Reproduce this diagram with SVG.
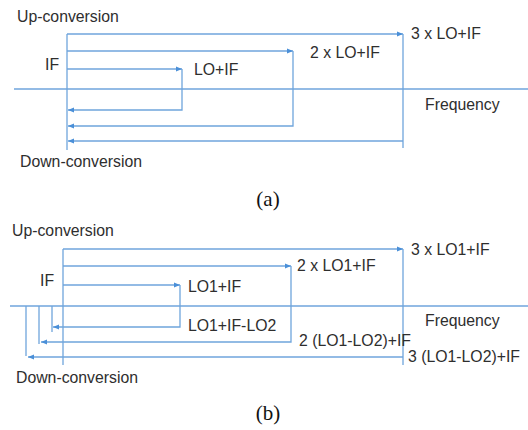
<svg xmlns="http://www.w3.org/2000/svg" width="528" height="430" viewBox="0 0 528 430">
<defs>
<style>
.ln{fill:none;stroke:#6fa5dc;stroke-width:1.3}
.ax{fill:none;stroke:#6fa5dc;stroke-width:1.6}
.t{font-family:"Liberation Sans",Arial,sans-serif;font-size:15.8px;fill:#2e2e2e}
.cap{font-family:"Liberation Serif","Times New Roman",serif;font-size:21px;fill:#111;text-anchor:middle}
</style>
<marker id="ah" markerWidth="6" markerHeight="6" refX="6" refY="3" orient="auto" markerUnits="userSpaceOnUse">
<path d="M0,0.5 L6,3 L0,5.5 z" fill="#4a8fd8"/>
</marker>
</defs>
<rect width="528" height="430" fill="#fff"/>

<g id="panel-a">
<g id="axes-a">
<line class="ax" x1="14" y1="89" x2="528" y2="89"/>
<line class="ln" x1="67" y1="34" x2="67" y2="150"/>
</g>
<g id="connectors-a">
<path class="ln" d="M67,69 H182" marker-end="url(#ah)"/>
<path class="ln" d="M182,69 V110 H68" marker-end="url(#ah)"/>
<path class="ln" d="M67,51 H293" marker-end="url(#ah)"/>
<path class="ln" d="M293,51 V126 H68" marker-end="url(#ah)"/>
<path class="ln" d="M67,34 H403" marker-end="url(#ah)"/>
<path class="ln" d="M403,34 V148"/>
<path class="ln" d="M403,141 H68" marker-end="url(#ah)"/>
</g>
<g id="labels-a">
<text class="t" x="17" y="22">Up-conversion</text>
<text class="t" x="45" y="70">IF</text>
<text class="t" x="194" y="75">LO+IF</text>
<text class="t" x="310" y="58">2 x LO+IF</text>
<text class="t" x="411" y="39">3 x LO+IF</text>
<text class="t" x="425" y="110">Frequency</text>
<text class="t" x="20" y="167">Down-conversion</text>
<text class="cap" x="268" y="206">(a)</text>
</g>
</g>

<g id="panel-b">
<g id="axes-b">
<line class="ax" x1="10" y1="306" x2="528" y2="306"/>
<line class="ln" x1="63" y1="249" x2="63" y2="365"/>
</g>
<g id="connectors-b">
<path class="ln" d="M63,285 H180" marker-end="url(#ah)"/>
<path class="ln" d="M180,285 V327 H53" marker-end="url(#ah)"/>
<path class="ln" d="M52,306 V332"/>
<path class="ln" d="M63,266 H291" marker-end="url(#ah)"/>
<path class="ln" d="M291,266 V342 H41" marker-end="url(#ah)"/>
<path class="ln" d="M39,306 V344"/>
<path class="ln" d="M63,249 H403" marker-end="url(#ah)"/>
<path class="ln" d="M403,249 V365"/>
<path class="ln" d="M403,357 H28" marker-end="url(#ah)"/>
<path class="ln" d="M26,306 V356"/>
</g>
<g id="labels-b">
<text class="t" x="12" y="236">Up-conversion</text>
<text class="t" x="40" y="286">IF</text>
<text class="t" x="188" y="292">LO1+IF</text>
<text class="t" x="188" y="331">LO1+IF-LO2</text>
<text class="t" x="297" y="271">2 x LO1+IF</text>
<text class="t" x="411" y="255">3 x LO1+IF</text>
<text class="t" x="425" y="326">Frequency</text>
<text class="t" x="299" y="346">2 (LO1-LO2)+IF</text>
<text class="t" x="408" y="362">3 (LO1-LO2)+IF</text>
<text class="t" x="16" y="383">Down-conversion</text>
<text class="cap" x="268" y="420">(b)</text>
</g>
</g>
</svg>
